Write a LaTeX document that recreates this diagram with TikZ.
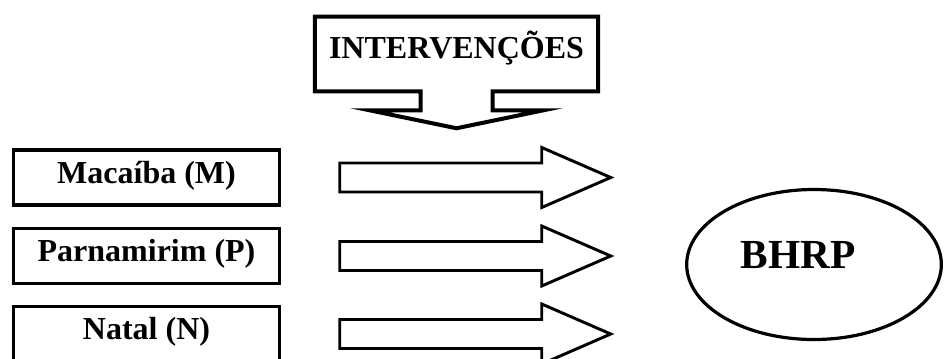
\documentclass[tikz,border=0pt]{standalone}
\usepackage{fontspec}
\setmainfont{Liberation Serif}
\usepackage{tikz}
\usetikzlibrary{positioning,calc,shapes.geometric}

\begin{document}
\begin{tikzpicture}[x=0.75pt, y=-0.75pt,
    city/.style={rectangle, draw=black, line width=2.6pt, minimum width=199.5pt,
        minimum height=41pt, inner sep=0pt, text height=0.88em, text depth=0pt,
        font=\fontsize{24}{28}\selectfont\bfseries},
    title/.style={rectangle, minimum width=212pt, minimum height=55.5pt,
        inner sep=0pt, text height=0.68em, text depth=0pt,
        font=\fontsize{24}{28}\selectfont\bfseries},
    outline/.style={draw=black, line width=3pt, line join=miter},
    blockarr/.style={draw=black, line width=2.2pt, line join=miter},
    target/.style={ellipse, draw=black, line width=2.4pt, minimum width=191pt,
        minimum height=112.5pt, inner sep=0pt}
]
    \useasboundingbox (0,0) rectangle (944,358);

    % ---- Interventions (top, pointing down) ----
    \node[title] (interv) at (456.5,54) {INTERVENÇÕES};
    \draw[outline] (interv.north west) -- (interv.north east) -- (interv.south east)
        -- ($(interv.south)+(36,0)$) -- ++(0,19) -- ++(51,0)
        -- ($(interv.south)+(0,37)$) -- ++(-87,-18) -- ++(51,0)
        -- ++(0,-19) -- (interv.south west) -- cycle;

    % ---- Municipalities (left column) ----
    \node[city] (mac) at (146.5,177.5) {Macaíba (M)};
    \node[city] (par) at (146.5,256) {Parnamirim (P)};
    \node[city] (nat) at (146.5,334) {Natal (N)};

    % Block arrows from each municipality towards the basin
    \draw[blockarr] ($(mac.east)+(58.5,-14.5)$) -- ++(202,0) -- ++(0,-15.5)
        -- ++(69,30) -- ++(-69,30) -- ++(0,-15.5) -- ++(-202,0) -- cycle;
    \draw[blockarr] ($(par.east)+(58.5,-14.5)$) -- ++(202,0) -- ++(0,-15.5)
        -- ++(69,30) -- ++(-69,30) -- ++(0,-15.5) -- ++(-202,0) -- cycle;
    \draw[blockarr] ($(nat.east)+(58.5,-14.5)$) -- ++(202,0) -- ++(0,-15.5)
        -- ++(69,30) -- ++(-69,30) -- ++(0,-15.5) -- ++(-202,0) -- cycle;

    % ---- Basin (right) ----
    \node[target] (bhrp) at (814,264.5) {};
    \node[font=\fontsize{31}{36}\selectfont\bfseries, inner sep=0pt,
        text height=0.64em, text depth=0pt] (bhrplabel)
        at ([xshift=-12pt]bhrp.center) {BHRP};
\end{tikzpicture}
\end{document}
